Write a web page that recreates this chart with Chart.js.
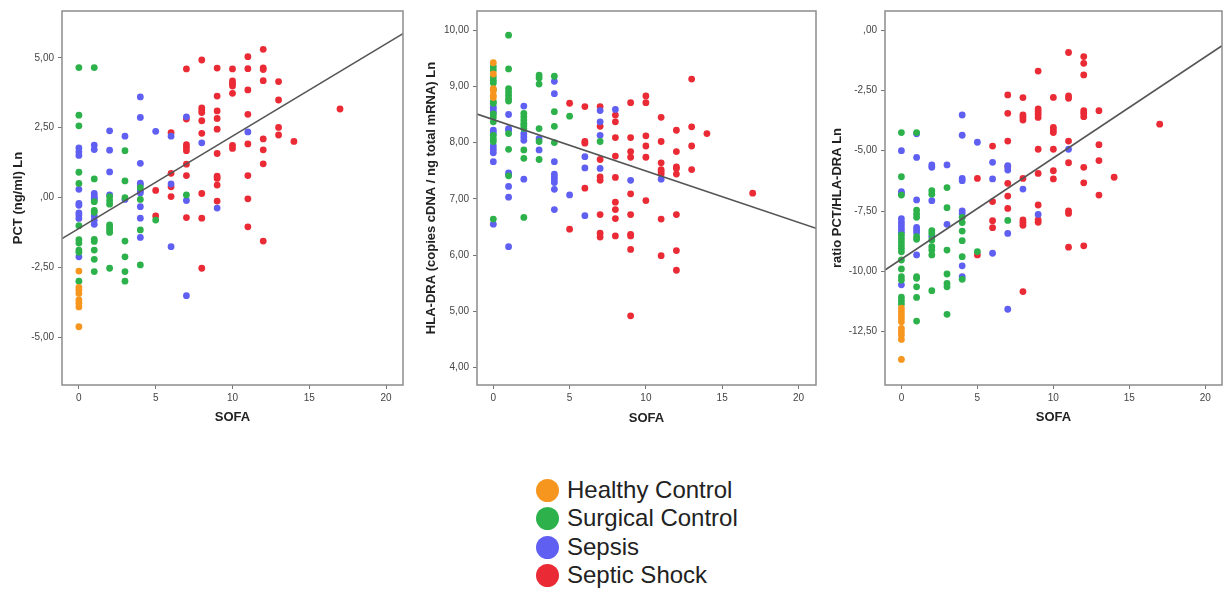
<!DOCTYPE html>
<html lang="en">
<head>
<meta charset="UTF-8">
<title>SOFA scatter plots</title>
<script src="https://cdn.jsdelivr.net/npm/chart.js"></script>
<style>
  body { margin: 0; background: #fff; width: 1227px; height: 596px; position: relative; overflow: hidden; font-family: "Liberation Sans", Arial, sans-serif; }
  canvas { position: absolute; top: 0; }
  #c1 { left: 0; }
  #c2 { left: 410px; }
  #c3 { left: 820px; }
  .leg { position: absolute; left: 536px; height: 28px; display: flex; align-items: center; font-size: 24px; color: #222; }
  .leg span { display: inline-block; width: 23px; height: 23px; border-radius: 50%; margin-right: 8px; }
</style>
</head>
<body>

<canvas id="c1" width="410" height="430"></canvas>
<canvas id="c2" width="410" height="430"></canvas>
<canvas id="c3" width="407" height="430"></canvas>

<div class="leg" style="top:476px"><span style="background:#f7961e"></span>Healthy Control</div>
<div class="leg" style="top:504px"><span style="background:#2cb14b"></span>Surgical Control</div>
<div class="leg" style="top:533px"><span style="background:#5f5ff2"></span>Sepsis</div>
<div class="leg" style="top:561px"><span style="background:#ea2b36"></span>Septic Shock</div>

<script>
// group names and colours
const groups = ['Healthy Control', 'Surgical Control', 'Sepsis', 'Septic Shock'];
const colors = ['#f7961e', '#2cb14b', '#5f5ff2', '#ea2b36'];

const xTicks = [0, 5, 10, 15, 20];

// --- PCT (ng/ml) Ln  vs SOFA ---
const pctHealthy = [[0,-2.62],[0,-3.2],[0,-3.3],[0,-3.42],[0,-3.65],[0,-3.77],[0,-3.9],[0,-4.61]];
const pctSurgical = [
  [0,4.65],[0,2.95],[0,2.57],[0,0.91],[0,0.51],[0,-1.0],[0,-1.5],[0,-1.62],[0,-1.87],[0,-1.95],[0,-2.98],
  [1,4.65],[1,0.67],[1,-0.14],[1,-0.45],[1,-0.52],[1,-1.49],[1,-1.56],[1,-1.87],[1,-2.2],[1,-2.64],
  [2,0.04],[2,-0.1],[2,-0.23],[2,-0.97],[2,-1.06],[2,-1.15],[2,-1.24],[2,-2.52],
  [3,1.68],[3,0.6],[3,0.0],[3,-1.55],[3,-2.11],[3,-2.64],[3,-2.98],
  [4,0.36],[4,-0.06],[4,-1.15],[4,-2.4],[5,-0.8],[7,0.1]
];
const pctSepsis = [
  [0,1.78],[0,1.64],[0,1.51],[0,0.3],[0,-0.2],[0,-0.27],[0,-0.54],[0,-0.62],[0,-0.74],[0,-2.11],
  [1,1.88],[1,1.72],[1,0.15],[1,0.06],[1,-0.02],[1,-0.08],[1,-0.65],[1,-0.8],[1,-0.95],
  [2,2.39],[2,1.7],[2,0.92],[2,0.1],[3,2.2],[3,-0.06],
  [4,3.6],[4,2.87],[4,1.23],[4,0.52],[4,0.45],[4,0.24],[4,0.17],[4,-0.32],[4,-0.73],[4,-1.42],
  [5,2.37],[6,2.2],[6,0.49],[6,-1.75],[7,2.89],[7,-0.1],[7,-3.5],[8,1.96],[9,-0.37],[11,2.35]
];
const pctShock = [
  [5,0.26],[5,-0.65],[6,2.32],[6,0.87],[6,0.39],[6,0.04],
  [7,4.6],[7,2.81],[7,1.9],[7,1.8],[7,1.68],[7,1.2],[7,0.79],[7,-0.71],
  [8,4.92],[8,3.21],[8,3.13],[8,3.04],[8,2.75],[8,2.3],[8,0.15],[8,-0.73],[8,-2.52],
  [9,4.63],[9,3.63],[9,3.1],[9,2.83],[9,2.45],[9,1.58],[9,0.77],[9,0.69],[9,0.45],[9,-0.12],
  [10,4.6],[10,4.17],[10,4.08],[10,3.99],[10,3.73],[10,1.87],[10,1.76],
  [11,5.04],[11,4.61],[11,3.85],[11,2.98],[11,1.92],[11,0.79],[11,-0.04],[11,-1.04],
  [12,5.3],[12,4.64],[12,4.58],[12,4.18],[12,2.1],[12,1.71],[12,1.21],[12,-1.55],
  [13,4.15],[13,3.49],[13,2.51],[13,2.24],[14,2.01],[17,3.17]
];
const pctFit = [-1.10, 0.330];   // intercept, slope
const pctTicks = [-5, -2.5, 0, 2.5, 5];

// --- HLA-DRA Ln vs SOFA ---
const hlaHealthy = [[0,9.42],[0,9.22],[0,8.96],[0,8.92],[0,8.84],[0,8.80]];
const hlaSurgical = [
  [0,9.35],[0,9.29],[0,9.17],[0,9.11],[0,9.06],[0,8.94],[0,8.73],[0,8.70],[0,8.51],[0,8.45],[0,8.37],[0,8.13],[0,8.07],[0,8.02],[0,6.64],
  [1,9.91],[1,9.31],[1,8.96],[1,8.90],[1,8.84],[1,8.78],[1,8.74],[1,8.16],[1,7.88],[1,7.41],
  [2,8.52],[2,8.46],[2,8.40],[2,8.34],[2,8.30],[2,8.25],[2,7.87],[2,7.72],[2,6.67],
  [3,9.2],[3,9.15],[3,9.04],[3,8.25],[3,8.02],[3,7.70],
  [4,9.18],[4,8.55],[4,8.29],[4,8.0],[5,8.47],[7,8.02]
];
const hlaSepsis = [
  [0,8.63],[0,8.58],[0,8.53],[0,8.22],[0,8.17],[0,7.94],[0,7.88],[0,7.82],[0,7.66],[0,6.55],
  [1,8.50],[1,8.25],[1,8.22],[1,7.46],[1,7.43],[1,7.22],[1,7.03],[1,6.15],
  [2,8.65],[2,8.16],[2,8.10],[2,8.04],[2,7.35],[3,8.07],[3,7.87],
  [4,9.09],[4,8.87],[4,7.66],[4,7.44],[4,7.39],[4,7.34],[4,7.29],[4,7.17],[4,6.81],
  [5,7.07],[6,7.75],[6,7.55],[6,6.70],[7,8.57],[7,8.37],[7,8.13],[7,7.54],[8,8.59],[9,7.33],[11,7.35]
];
const hlaShock = [
  [5,8.70],[5,6.46],[6,8.64],[6,8.02],[6,7.99],[6,7.19],
  [7,8.64],[7,8.29],[7,7.70],[7,7.39],[7,7.33],[7,6.72],[7,6.39],[7,6.32],
  [8,8.49],[8,8.37],[8,8.09],[8,7.76],[8,7.38],[8,6.94],[8,6.81],[8,6.65],[8,6.34],
  [9,8.71],[9,8.09],[9,7.84],[9,7.74],[9,7.09],[9,6.72],[9,6.37],[9,6.34],[9,6.10],[9,4.92],
  [10,8.83],[10,8.71],[10,8.12],[10,7.94],[10,7.74],[10,6.97],
  [11,8.45],[11,8.02],[11,7.64],[11,7.52],[11,7.48],[11,7.44],[11,6.64],[11,5.99],
  [12,8.22],[12,7.84],[12,7.57],[12,7.54],[12,7.44],[12,6.72],[12,6.08],[12,5.73],
  [13,9.13],[13,8.28],[13,7.94],[13,7.52],[14,8.16],[17,7.10]
];
const hlaFit = [8.41, -0.0914];
const hlaTicks = [4, 5, 6, 7, 8, 9, 10];

// --- ratio PCT/HLA-DRA Ln vs SOFA ---
const ratioHealthy = [[0,-11.53],[0,-11.67],[0,-11.81],[0,-11.95],[0,-12.09],[0,-12.36],[0,-12.5],[0,-12.64],[0,-12.82],[0,-13.65]];
const ratioSurgical = [
  [0,-4.25],[0,-6.08],[0,-6.84],[0,-8.49],[0,-8.63],[0,-8.77],[0,-8.91],[0,-9.05],[0,-9.19],[0,-9.53],[0,-9.9],[0,-10.22],[0,-10.36],[0,-11.07],[0,-11.21],[0,-11.35],
  [1,-4.25],[1,-7.46],[1,-7.62],[1,-7.76],[1,-8.56],[1,-8.67],[1,-10.22],[1,-10.29],[1,-10.64],[1,-11.08],[1,-12.06],
  [2,-6.66],[2,-6.80],[2,-8.31],[2,-8.43],[2,-8.70],[2,-8.98],[2,-9.12],[2,-9.32],[2,-10.80],
  [3,-6.53],[3,-7.36],[3,-9.12],[3,-10.11],[3,-10.50],[3,-10.64],[3,-11.78],
  [4,-7.76],[4,-7.98],[4,-8.33],[4,-8.73],[4,-9.39],[4,-10.33],[5,-9.18],[7,-7.89]
];
const ratioSepsis = [
  [0,-5.0],[0,-6.70],[0,-6.77],[0,-7.82],[0,-7.96],[0,-8.1],[0,-8.24],[0,-8.38],[0,-10.56],
  [1,-4.3],[1,-5.28],[1,-7.04],[1,-8.18],[1,-8.29],[1,-8.40],[1,-9.32],
  [2,-5.59],[2,-5.69],[2,-7.07],[2,-8.56],[3,-5.59],[3,-8.05],
  [4,-3.52],[4,-4.36],[4,-6.15],[4,-6.24],[4,-7.49],[4,-7.60],[4,-9.77],[4,-10.22],
  [5,-4.65],[6,-5.48],[6,-6.17],[6,-9.25],[7,-5.62],[7,-5.80],[7,-8.43],[7,-11.57],[8,-6.59],[9,-7.64],[11,-4.94]
];
const ratioShock = [
  [5,-6.15],[5,-9.32],[6,-4.81],[6,-7.11],[6,-7.90],[6,-8.19],
  [7,-2.69],[7,-3.45],[7,-4.6],[7,-5.66],[7,-6.35],[7,-6.88],[7,-7.39],
  [8,-2.80],[8,-3.52],[8,-3.62],[8,-3.73],[8,-6.15],[8,-7.87],[8,-7.98],[8,-8.09],[8,-10.84],
  [9,-1.70],[9,-3.27],[9,-3.38],[9,-3.49],[9,-3.62],[9,-4.94],[9,-5.94],[9,-7.25],[9,-7.87],[9,-7.97],
  [10,-2.79],[10,-4.03],[10,-4.14],[10,-4.25],[10,-4.94],[10,-5.83],[10,-6.17],
  [11,-0.93],[11,-2.73],[11,-2.83],[11,-4.6],[11,-5.50],[11,-7.49],[11,-7.60],[11,-9.0],
  [12,-1.10],[12,-1.38],[12,-1.86],[12,-3.34],[12,-3.45],[12,-3.59],[12,-5.69],[12,-6.33],[12,-8.94],
  [13,-3.34],[13,-4.75],[13,-5.41],[13,-6.84],[14,-6.1],[17,-3.9]
];
const ratioFit = [-9.49, 0.419];
const ratioTicks = [-12.5, -10, -7.5, -5, -2.5, 0];

// SPSS style labels: 2,50  ,00  -5,00
function fmt(v) {
  let s = Math.abs(v).toFixed(2).replace('.', ',');
  if (s.startsWith('0')) s = s.slice(1);
  return (v < 0 ? '-' : '') + s;
}

// frame around the plot area
const frame = {
  id: 'frame',
  afterDatasetsDraw(chart) {
    const a = chart.chartArea, c = chart.ctx;
    c.save();
    c.strokeStyle = '#8c8c8c';
    c.lineWidth = 1.5;
    c.strokeRect(a.left, a.top, a.right - a.left, a.bottom - a.top);
    c.restore();
  }
};

function panel(id, sets, fit, o) {
  const ds = [{
    type: 'line',
    data: [[o.xMin, fit[0] + fit[1] * o.xMin], [o.xMax, fit[0] + fit[1] * o.xMax]],
    borderColor: '#555',
    borderWidth: 1.6,
    pointRadius: 0,
    fill: false
  }];
  sets.forEach((d, i) => ds.push({
    label: groups[i],
    data: d,
    backgroundColor: colors[i],
    borderWidth: 0,
    pointRadius: 3.4
  }));

  new Chart(document.getElementById(id), {
    type: 'scatter',
    data: { datasets: ds },
    options: {
      responsive: false,
      animation: false,
      devicePixelRatio: 1,
      layout: { padding: { left: 0, top: 11, right: o.right, bottom: 0 } },
      plugins: { legend: { display: false }, tooltip: { enabled: false } },
      scales: {
        x: {
          min: o.xMin, max: o.xMax,
          afterBuildTicks: s => { s.ticks = xTicks.map(v => ({ value: v })); },
          afterFit: s => { s.height = 45; },
          grid: { drawOnChartArea: false, tickLength: 4, color: '#777' },
          border: { display: false },
          ticks: { padding: 3, color: '#444', font: { family: 'Liberation Sans', size: 10 } },
          title: { display: true, text: 'SOFA', color: '#222', padding: { top: 0, bottom: o.xTitlePad },
                   font: { family: 'Liberation Sans', size: 13, weight: 'bold' } }
        },
        y: {
          min: o.yMin, max: o.yMax,
          afterBuildTicks: s => { s.ticks = o.yTicks.map(v => ({ value: v })); },
          afterFit: s => { s.width = o.yWidth; },
          grid: { drawOnChartArea: false, tickLength: 4, color: '#777' },
          border: { display: false },
          ticks: { padding: 4, color: '#444', font: { family: 'Liberation Sans', size: 10 },
                   callback: v => fmt(v) },
          title: { display: true, text: o.yTitle, color: '#222', padding: { top: o.yTitlePad, bottom: 0 },
                   font: { family: 'Liberation Sans', size: 13, weight: 'bold' } }
        }
      }
    },
    plugins: [frame]
  });
}

panel('c1', [pctHealthy, pctSurgical, pctSepsis, pctShock], pctFit, {
  xMin: -1.1, xMax: 21.1, yMin: -6.69, yMax: 6.67, yTicks: pctTicks,
  yTitle: 'PCT (ng/ml) Ln', yWidth: 62, right: 7, yTitlePad: 11, xTitlePad: 5
});
panel('c2', [hlaHealthy, hlaSurgical, hlaSepsis, hlaShock], hlaFit, {
  xMin: -1.07, xMax: 21.15, yMin: 3.69, yMax: 10.34, yTicks: hlaTicks,
  yTitle: 'HLA-DRA (copies cDNA / ng total mRNA) Ln', yWidth: 67, right: 3, yTitlePad: 14, xTitlePad: 4
});
panel('c3', [ratioHealthy, ratioSurgical, ratioSepsis, ratioShock], ratioFit, {
  xMin: -1.08, xMax: 21.1, yMin: -14.71, yMax: 0.79, yTicks: ratioTicks,
  yTitle: 'ratio PCT/HLA-DRA Ln', yWidth: 65, right: 5, yTitlePad: 10, xTitlePad: 5
});
</script>

</body>
</html>
